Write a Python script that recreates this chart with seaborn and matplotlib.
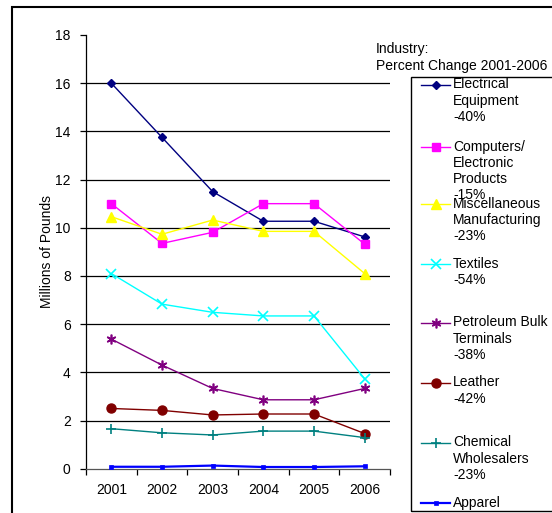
import matplotlib
matplotlib.use("Agg")
import matplotlib.pyplot as plt
from matplotlib.lines import Line2D
from matplotlib.patches import Rectangle
import seaborn as sns
import pandas as pd

years = ["2001", "2002", "2003", "2004", "2005", "2006"]
electrical = [16.0, 13.75, 11.5, 10.27, 10.27, 9.62]
computers = [11.0, 9.35, 9.81, 11.0, 11.0, 9.32]
misc = [10.46, 9.73, 10.32, 9.85, 9.85, 8.1]
textiles = [8.1, 6.83, 6.49, 6.34, 6.34, 3.73]
petroleum = [5.38, 4.3, 3.33, 2.86, 2.86, 3.33]
leather = [2.5, 2.42, 2.23, 2.27, 2.27, 1.46]
chemical = [1.66, 1.49, 1.4, 1.56, 1.56, 1.29]
apparel = [0.08, 0.08, 0.13, 0.07, 0.07, 0.1]

labels = [
    "Electrical\nEquipment\n-40%",
    "Computers/\nElectronic\nProducts\n-15%",
    "Miscellaneous\nManufacturing\n-23%",
    "Textiles\n-54%",
    "Petroleum Bulk\nTerminals\n-38%",
    "Leather\n-42%",
    "Chemical\nWholesalers\n-23%",
    "Apparel",
]
yticks = [0, 2, 4, 6, 8, 10, 12, 14, 16, 18]

series = [electrical, computers, misc, textiles, petroleum, leather, chemical, apparel]
styles = [
    dict(color="#000080", marker="D", ms=4.5, mec="#000080", mfc="#000080", mew=1, lw=1.0),
    dict(color="#FF00FF", marker="s", ms=6, mec="#FF00FF", mfc="#FF00FF", mew=1, lw=1.0),
    dict(color="#FFFF00", marker="^", ms=6.5, mec="#FFFF00", mfc="#FFFF00", mew=1, lw=1.0),
    dict(color="#00FFFF", marker="x", ms=6.5, mec="#00FFFF", mfc="#00FFFF", mew=1.2, lw=1.0),
    dict(color="#800080", marker=(6, 2, 0), ms=7, mec="#800080", mfc="#800080", mew=1.2, lw=1.0),
    dict(color="#800000", marker="o", ms=6.5, mec="#800000", mfc="#800000", mew=1, lw=1.0),
    dict(color="#008080", marker="+", ms=7.5, mec="#008080", mfc="#008080", mew=1.2, lw=1.0),
    dict(color="#0000FF", marker="s", ms=3, mec="#0000FF", mfc="#0000FF", mew=0.5, lw=1.6),
]

plt.rcParams["font.family"] = ["Liberation Sans", "DejaVu Sans"]

W, H = 552, 513
fig = plt.figure(figsize=(W / 100, H / 100), dpi=100)
ax = fig.add_axes([86 / W, 1 - 468.7 / H, (390 - 86) / W, (468.7 - 35) / H])

xpos = list(range(len(years)))
for vals, lab, st in zip(series, labels, styles):
    df = pd.DataFrame({"x": xpos, "y": vals})
    sns.lineplot(data=df, x="x", y="y", ax=ax, color=st["color"], marker=st["marker"],
                 markersize=st["ms"], markeredgecolor=st["mec"], markerfacecolor=st["mfc"],
                 markeredgewidth=st["mew"], linewidth=st["lw"], label=lab, legend=False, zorder=3)

ax.set_xlim(-0.5, len(years) - 0.5)
ax.set_ylim(0, 18)
for yv in yticks[1:-1]:
    ax.axhline(yv, color="black", lw=0.9, zorder=1)
ax.set_yticks(yticks)
ax.set_yticklabels([str(v) for v in yticks], fontsize=10)
ax.set_xticks([i - 0.5 for i in range(len(years) + 1)])
ax.set_xticklabels([])
ax.set_xticks(xpos, minor=True)
ax.set_xticklabels(years, minor=True, fontsize=10)
ax.tick_params(axis="x", which="major", direction="out", length=4, width=0.9)
ax.tick_params(axis="x", which="minor", length=0, pad=10)
ax.tick_params(axis="y", direction="out", length=4, width=0.9, pad=7)
for s in ["top", "right"]:
    ax.spines[s].set_visible(False)
ax.spines["left"].set_linewidth(0.9)
ax.spines["bottom"].set_linewidth(0.9)
ax.spines["bottom"].set_color("#555555")
ax.set_xlabel("")
ax.set_ylabel("Millions of Pounds", fontsize=10, labelpad=1)

# outer chart frame
fig.add_artist(Rectangle((12 / W, -0.05), 1.1, 1 - 7.5 / H + 0.05, transform=fig.transFigure,
                         fill=False, edgecolor="black", lw=1.5, clip_on=False))

# legend title
fig.text(376 / W, 1 - 42 / H, "Industry:\nPercent Change 2001-2006", fontsize=10,
         ha="left", va="top", linespacing=1.25)

# legend box
fig.add_artist(Rectangle((411 / W, 1 - 511 / H), 1.0, (511 - 76.7) / H, transform=fig.transFigure,
                         fill=False, edgecolor="black", lw=1.0, clip_on=False))
ymk = [85, 147, 204, 264, 323, 383, 443, 503]
for lab, st, yp in zip(labels, styles, ymk):
    fig.add_artist(Line2D([421 / W, 450 / W], [1 - yp / H, 1 - yp / H], transform=fig.transFigure,
                          color=st["color"], lw=st["lw"]))
    fig.add_artist(Line2D([435.5 / W], [1 - yp / H], transform=fig.transFigure, color=st["color"],
                          marker=st["marker"], ms=st["ms"], mec=st["mec"], mfc=st["mfc"],
                          mew=st["mew"], lw=0))
    fig.text(453 / W, 1 - (yp - 7.5) / H, lab, fontsize=10, ha="left", va="top", linespacing=1.2)

fig.savefig("out.png", dpi=100)
